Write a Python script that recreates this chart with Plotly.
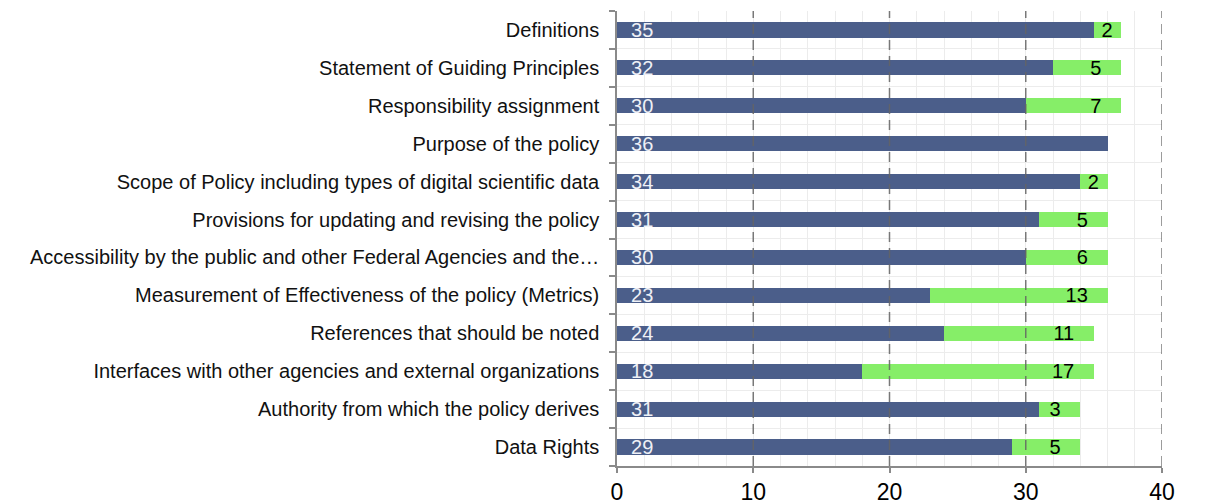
import plotly.graph_objects as go

categories = [
    "Definitions",
    "Statement of Guiding Principles",
    "Responsibility assignment",
    "Purpose of the policy",
    "Scope of Policy including types of digital scientific data",
    "Provisions for updating and revising the policy",
    "Accessibility by the public and other Federal Agencies and the…",
    "Measurement of Effectiveness of the policy (Metrics)",
    "References that should be noted",
    "Interfaces with other agencies and external organizations",
    "Authority from which the policy derives",
    "Data Rights",
]
series_a = [35, 32, 30, 36, 34, 31, 30, 23, 24, 18, 31, 29]
series_b = [2, 5, 7, 0, 2, 5, 6, 13, 11, 17, 3, 5]
x_ticks = [0, 10, 20, 30, 40]

NB = "\u00a0"
navy = "#4b5e8a"
green = "#86ee68"


def green_label(v):
    if not v:
        return ""
    return str(v) + NB * (3 if v >= 3 else 1)


fig = go.Figure()
fig.add_trace(go.Bar(
    y=categories, x=series_a, orientation="h",
    marker=dict(color=navy, line=dict(width=0)),
    text=[NB * 2 + str(v) for v in series_a],
    textposition="inside", insidetextanchor="start", textangle=0,
    textfont=dict(family="Liberation Sans, Arial", size=20, color="#eef0f6"),
    constraintext="none",
    showlegend=False,
))
fig.add_trace(go.Bar(
    y=categories, x=series_b, orientation="h",
    marker=dict(color=green, line=dict(width=0)),
    text=[green_label(v) for v in series_b],
    textposition="inside", insidetextanchor="end", textangle=0,
    textfont=dict(family="Liberation Sans, Arial", size=20, color="#000000"),
    constraintext="none",
    showlegend=False,
))

shapes = []
for t in x_ticks[1:]:
    shapes.append(dict(type="line", xref="x", yref="paper", x0=t, x1=t, y0=0, y1=1,
                       line=dict(color="rgba(100,100,100,0.85)", width=1.5, dash="10px,6px"),
                       layer="above"))

fig.update_layout(
    barmode="stack",
    bargap=0.6,
    width=1216, height=504,
    margin=dict(l=609, r=62, t=3, b=46),
    plot_bgcolor="white", paper_bgcolor="white",
    font=dict(family="Liberation Sans, Arial", color="#111111"),
    shapes=shapes,
)
fig.update_xaxes(
    range=[0, 40], tickvals=x_ticks, ticktext=[str(v) for v in x_ticks],
    showgrid=False, zeroline=False,
    showline=True, linecolor="#8a8a8a", linewidth=1.5,
    ticks="outside", ticklen=5, tickcolor="#8a8a8a", tickwidth=1.5,
    tickfont=dict(size=23, color="#000000"),
    minor=dict(dtick=2, showgrid=True, gridcolor="#ececec", gridwidth=1, ticks=""),
)
fig.update_yaxes(
    categoryorder="array", categoryarray=categories[::-1],
    autorange=False, range=[-0.5, len(categories) - 0.5],
    tickson="boundaries", showgrid=True, gridcolor="#ececec", gridwidth=1,
    showline=True, linecolor="#8a8a8a", linewidth=1.5,
    ticks="outside", ticklen=6, tickcolor="#8a8a8a", tickwidth=1.5,
    tickfont=dict(size=20, color="#111111"),
    ticklabelstandoff=12,
)

fig.write_html("out.html")
